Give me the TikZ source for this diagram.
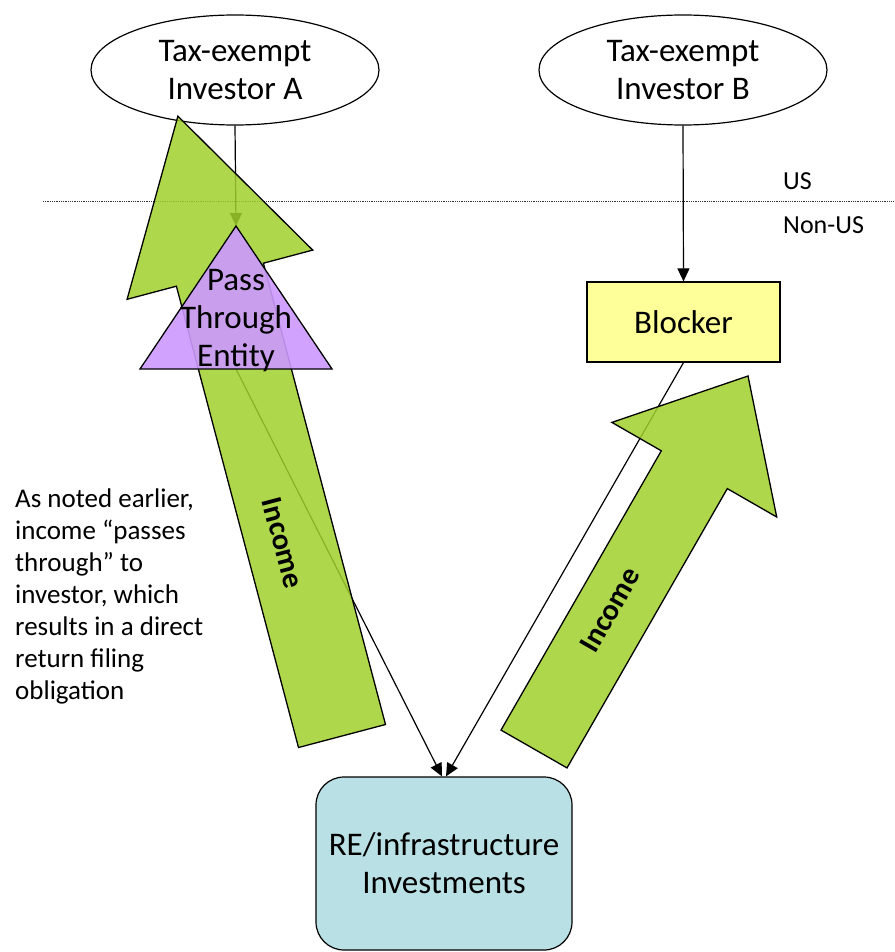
\documentclass[tikz,border=0pt]{standalone}
\usepackage{fontspec}
\setmainfont{Carlito}
\usetikzlibrary{shapes.geometric,arrows.meta}
\definecolor{arrowgreen}{RGB}{160,208,45}
\definecolor{ptepurple}{RGB}{204,153,255}
\definecolor{blockyellow}{RGB}{255,255,153}
\definecolor{reblue}{RGB}{185,224,228}
\begin{document}
\begin{tikzpicture}[x=1pt,y=-1pt,
  lbl/.style={font=\fontsize{33}{38}\selectfont, align=center},
  conn/.style={line width=1.2pt, -{Triangle[length=13pt,width=12pt]}},
  bigarrow/.style={draw=black, line width=1.3pt, fill=arrowgreen, fill opacity=0.85, line join=miter},
  incomelbl/.style={font=\bfseries\fontsize{30}{36}\selectfont, text=black},
  investor/.style={ellipse, draw, line width=1.2pt, fill=white, minimum width=288pt, minimum height=110pt, inner sep=0pt, lbl},
]
\useasboundingbox (0,0) rectangle (894,952);

% investors
\node[investor] (invA) at (235,70) {Tax-exempt\\Investor A};
\node[investor] (invB) at (683,70) {Tax-exempt\\Investor B};

% US / Non-US boundary
\coordinate (dl) at (43,201);
\coordinate (dr) at (894,201);
\draw[densely dotted, line width=0.8pt, black!80] (dl) -- (dr);
\node[anchor=west, font=\fontsize{26}{30}\selectfont, inner sep=0pt] (us) at (783,181) {US};
\node[anchor=west, font=\fontsize{26}{30}\selectfont, inner sep=0pt] (nonus) at (783,225) {Non-US};

% boxes
\node[draw, line width=1.2pt, fill=blockyellow, minimum width=193pt, minimum height=80pt, lbl] (blk) at (683.5,322) {Blocker};
\node[draw, line width=1.2pt, rounded corners=28pt, fill=reblue, minimum width=256pt, minimum height=173pt, lbl] (re) at (444,863.5) {RE/infrastructure\\Investments};

% triangle anchors
\coordinate (ptetop) at (236,226);
\coordinate (ptebot) at (236,369);

% connectors
\draw[conn] (invA.south) -- (ptetop);
\draw[conn] (invB.south) -- (blk.north);
\draw[conn] (ptebot) -- ([xshift=-2pt]re.north);
\draw[conn] (blk.south) -- ([xshift=2pt]re.north);

% big income arrows
\draw[bigarrow] (385.5,724.5) -- (263.4,263.2) -- (312.7,250.1) -- (177.9,116.2)
  -- (127.1,299.3) -- (176.4,286.2) -- (298.5,747.5) -- cycle;
\draw[bigarrow] (567,767.9) -- (727.3,488.6) -- (776.7,517) -- (748,376)
  -- (611.9,422.4) -- (661.3,450.8) -- (501,730.1) -- cycle;

% pass through entity
\draw[line width=1.3pt, fill=ptepurple, fill opacity=0.9, line join=miter] (ptetop) -- (332,369) -- (140,369) -- cycle;
\node[lbl, inner sep=0pt] (pte) at (236,321) {Pass\\Through\\Entity};

% income labels
\node[incomelbl, rotate=-75.2] (incA) at (283,543) {Income};
\node[incomelbl, rotate=60.2] (incB) at (610,610) {Income};

% note
\node[anchor=north west, align=left, font=\fontsize{27}{32}\selectfont, inner sep=0pt] (note) at (15,489)
  {As noted earlier,\\income “passes\\through” to\\investor, which\\results in a direct\\return filing\\obligation};
\end{tikzpicture}
\end{document}
